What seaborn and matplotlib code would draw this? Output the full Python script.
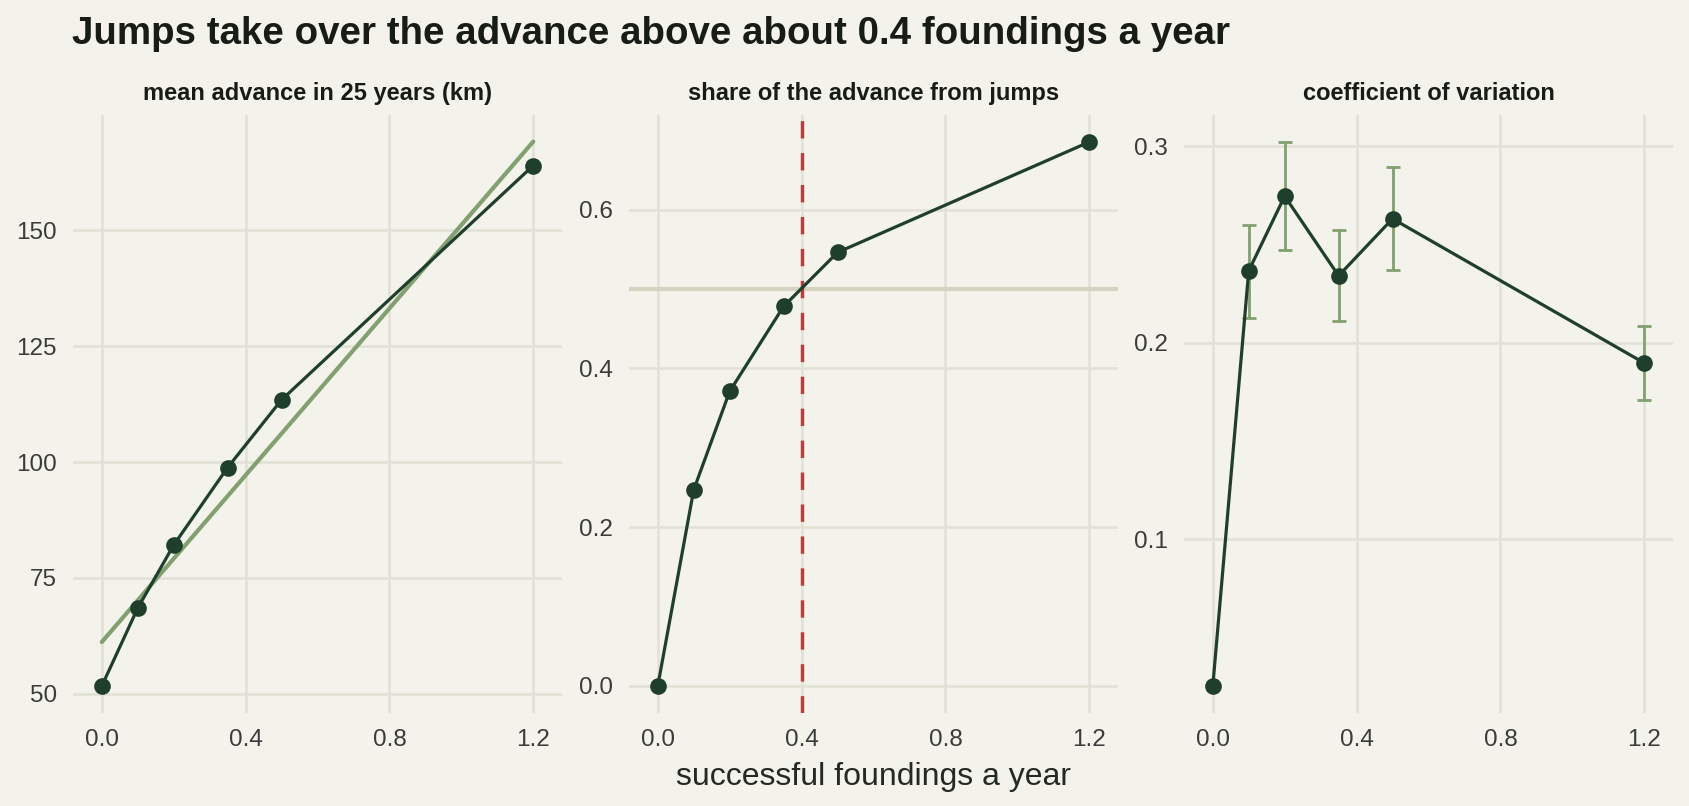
import numpy as np
import pandas as pd
import matplotlib
matplotlib.use("Agg")
import matplotlib.pyplot as plt
from matplotlib.ticker import FormatStrFormatter
import seaborn as sns

# ---- data ----
rate = [0.0, 0.1, 0.2, 0.35, 0.5, 1.2]
mean_advance_km = [51.7, 68.5, 82.1, 98.8, 113.4, 163.9]
jump_share = [0.0, 0.247, 0.371, 0.478, 0.546, 0.685]
cv = [0.025, 0.2365, 0.2745, 0.234, 0.263, 0.1896]
cv_low = [0.025, 0.2125, 0.247, 0.2108, 0.2367, 0.1706]
cv_high = [0.025, 0.260, 0.302, 0.2575, 0.2892, 0.2084]
x_ticks = [0.0, 0.4, 0.8, 1.2]
panel_titles = ["mean advance in 25 years (km)",
                "share of the advance from jumps",
                "coefficient of variation"]
title = "Jumps take over the advance above about 0.4 foundings a year"
xlabel = "successful foundings a year"
threshold_rate = 0.4
half_share = 0.5

BG = "#f3f2eb"
GRID = "#e2e1d5"
DARK = "#1f3f2c"
SAGE = "#82a070"
RED = "#b5403f"
HLINE = "#d5d4c0"
TXT = "#171c17"
TICK = "#3b3b3b"

sns.set_theme(style="white")
plt.rcParams["font.family"] = ["Liberation Sans", "DejaVu Sans"]

fig = plt.figure(figsize=(16.89, 8.06), dpi=100, facecolor=BG)
W, H = 1689, 806
lefts = [73, 629, 1184]
width = 489
top, bottom = 115, 713
axes = [fig.add_axes([l / W, 1 - bottom / H, width / W, (bottom - top) / H]) for l in lefts]

df = pd.DataFrame({"rate": rate, "adv": mean_advance_km, "share": jump_share,
                   "cv": cv, "lo": cv_low, "hi": cv_high})

for ax, t in zip(axes, panel_titles):
    ax.set_facecolor(BG)
    for s in ax.spines.values():
        s.set_visible(False)
    ax.grid(True, color=GRID, lw=1.9, zorder=0)
    ax.set_axisbelow(True)
    ax.set_xlim(-0.08, 1.28)
    ax.set_xticks(x_ticks)
    ax.xaxis.set_major_formatter(FormatStrFormatter("%.1f"))
    ax.tick_params(axis="both", length=0, pad=11.5, labelsize=17.5, labelcolor=TICK)
    ax.set_title(t, fontsize=17, fontweight="bold", color=TXT, pad=10.8)

# panel 1
ax = axes[0]
sns.regplot(data=df, x="rate", y="adv", ax=ax, scatter=False, ci=None,
            line_kws=dict(color=SAGE, lw=3, zorder=2))
sns.lineplot(data=df, x="rate", y="adv", ax=ax, color=DARK, lw=2.3, marker="o",
             markersize=12, markeredgewidth=0, zorder=3)
ax.set_ylim(45.9, 174.8)
ax.set_yticks([50, 75, 100, 125, 150])

# panel 2
ax = axes[1]
ax.axhline(half_share, color=HLINE, lw=3, zorder=1)
ax.axvline(threshold_rate, color=RED, lw=2.5, ls=(0, (5, 4.2)), zorder=2)
sns.lineplot(data=df, x="rate", y="share", ax=ax, color=DARK, lw=2.3, marker="o",
             markersize=12, markeredgewidth=0, zorder=3)
ax.set_ylim(-0.034, 0.719)
ax.set_yticks([0.0, 0.2, 0.4, 0.6])
ax.yaxis.set_major_formatter(FormatStrFormatter("%.1f"))

# panel 3
ax = axes[2]
err = np.vstack([df["cv"] - df["lo"], df["hi"] - df["cv"]])
ax.errorbar(df["rate"], df["cv"], yerr=err, fmt="none", ecolor=SAGE, elinewidth=2,
            capsize=5, capthick=2, zorder=2)
sns.lineplot(data=df, x="rate", y="cv", ax=ax, color=DARK, lw=2.3, marker="o",
             markersize=12, markeredgewidth=0, zorder=3)
ax.set_ylim(0.0115, 0.3158)
ax.set_yticks([0.1, 0.2, 0.3])
ax.yaxis.set_major_formatter(FormatStrFormatter("%.1f"))

for ax in axes:
    ax.set_xlabel("")
    ax.set_ylabel("")
axes[1].set_xlabel(xlabel, fontsize=23, color="#242924", labelpad=8)

fig.text(72 / W, 1 - 44 / H, title, fontsize=27.7, fontweight="bold", color=TXT,
         ha="left", va="baseline")

fig.savefig("out.png", dpi=100, facecolor=BG)
